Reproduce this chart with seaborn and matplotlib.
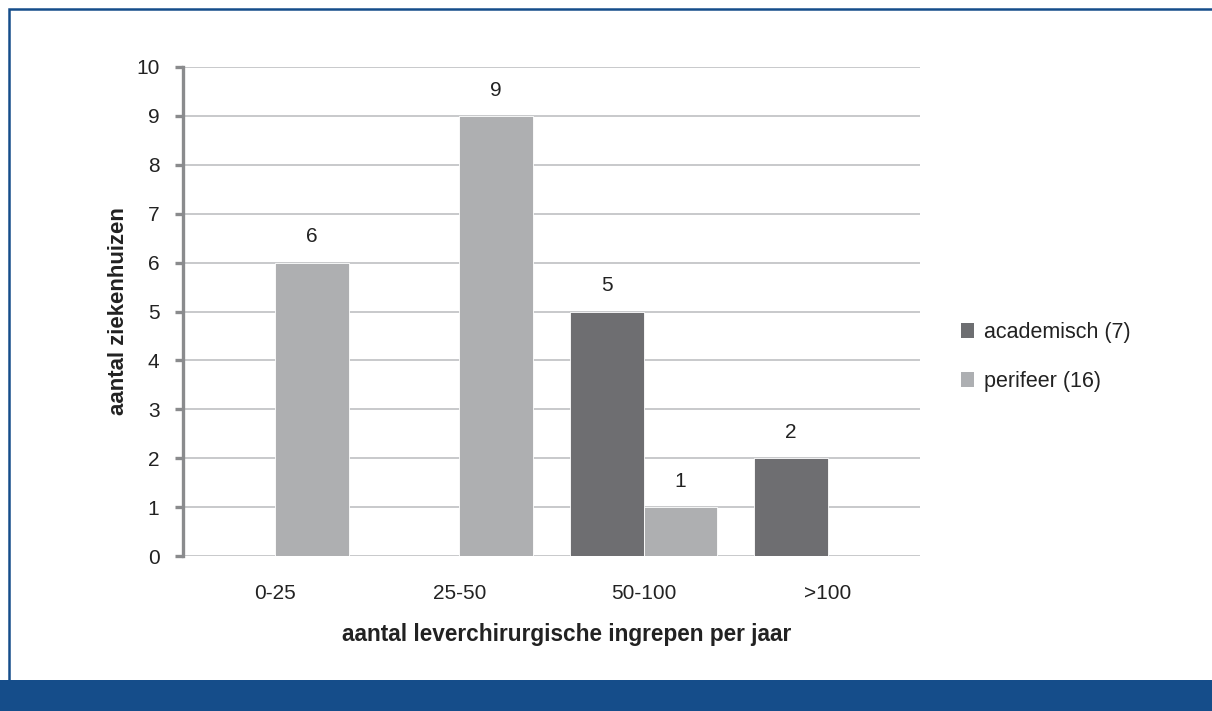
import matplotlib
matplotlib.use("Agg")
import matplotlib.pyplot as plt
from matplotlib.patches import Rectangle, Patch
import seaborn as sns
import pandas as pd

categories = ["0-25", "25-50", "50-100", ">100"]
academisch = [0, 0, 5, 2]
perifeer = [6, 9, 1, 0]
series_names = ["academisch (7)", "perifeer (16)"]
y_ticks = list(range(0, 11))

dark = "#6d6e71"
light = "#adafb2"
navy = "#154d8a"
txt = "#222222"

df = pd.DataFrame({
    "cat": categories * 2,
    "val": academisch + perifeer,
    "serie": [series_names[0]] * 4 + [series_names[1]] * 4,
})

sns.set_theme(style="white")
plt.rcParams["font.family"] = ["Liberation Sans", "DejaVu Sans"]

fig = plt.figure(figsize=(12.12, 7.11), dpi=100)
ax = fig.add_axes([183 / 1212, 1 - 556 / 711, (920 - 183) / 1212, (556 - 67) / 711])

sns.barplot(data=df, x="cat", y="val", hue="serie", order=categories,
            hue_order=series_names, palette=[dark, light], width=0.8,
            edgecolor="white", linewidth=0.6, ax=ax, legend=False, zorder=3)

# value labels above non-empty bars
for cont in ax.containers:
    for bar in cont:
        h = bar.get_height()
        if h > 0:
            ax.text(bar.get_x() + bar.get_width() / 2, h + 0.33, f"{int(h)}",
                    ha="center", va="bottom", fontsize=15, color=txt)

ax.set_ylim(0, 10)
ax.set_xlim(-0.5, 3.5)
ax.set_yticks(y_ticks)
ax.yaxis.grid(True, color="#c8c9cb", linewidth=1.4, zorder=0)
ax.set_axisbelow(True)
for s in ["top", "right", "bottom"]:
    ax.spines[s].set_visible(False)
ax.spines["left"].set_color("#8a8b8d")
ax.spines["left"].set_linewidth(2.4)
ax.spines["left"].set_zorder(5)
ax.tick_params(axis="y", left=True, length=6, width=2.4, color="#8a8b8d",
               labelsize=15, labelcolor=txt, pad=11)
ax.tick_params(axis="x", bottom=False, labelsize=15, labelcolor=txt, pad=14)

ax.set_xlabel("aantal leverchirurgische ingrepen per jaar", fontsize=16.3,
              fontweight="bold", color=txt, labelpad=12)
ax.xaxis.set_label_coords(0.521, -0.138)
ax.set_ylabel("aantal ziekenhuizen", fontsize=16, fontweight="bold",
              color=txt, labelpad=5)

handles = [Patch(facecolor=dark, edgecolor="none"), Patch(facecolor=light, edgecolor="none")]
fig.legend(handles, series_names, loc="center left",
           bbox_to_anchor=(942 / 1212, 1 - 357 / 711), frameon=False,
           fontsize=15.5, handlelength=0.6, handleheight=0.7, handletextpad=0.45,
           labelspacing=1.3, labelcolor=txt)

# outer frame and bottom band
fig.patches.append(Rectangle((9 / 1212, 0), 1.2, 1 - 9 / 711, transform=fig.transFigure,
                             fill=False, edgecolor=navy, linewidth=1.8, zorder=10))
fig.patches.append(Rectangle((0, 0), 1, 31 / 711, transform=fig.transFigure,
                             facecolor=navy, edgecolor="none", zorder=11))

fig.savefig("out.png", dpi=100)
